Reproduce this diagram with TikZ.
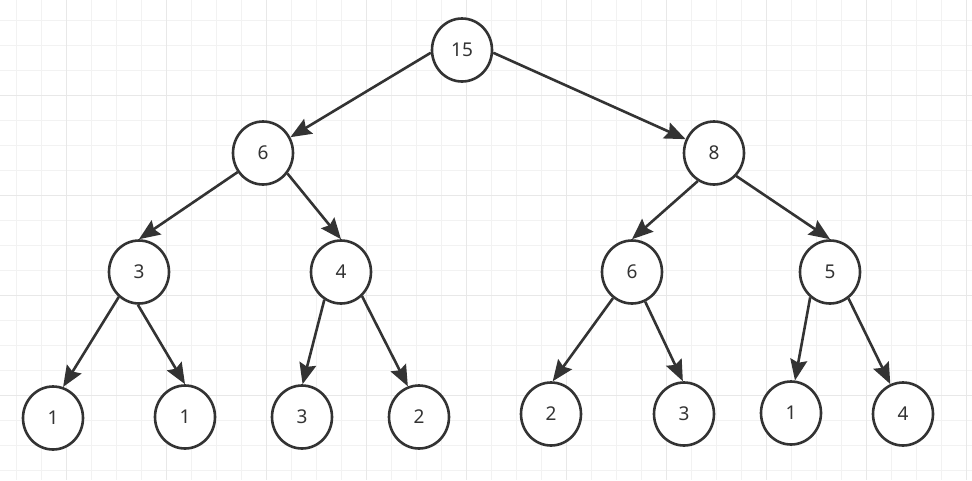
\documentclass[tikz,border=0pt]{standalone}
\usepackage{fontspec}
\setmainfont{Noto Sans}
\usetikzlibrary{arrows.meta,shapes.geometric}
\definecolor{tratto}{HTML}{333333}
\definecolor{griglia}{HTML}{F2F2F2}
\definecolor{grigliaforte}{HTML}{E8E8E8}
\begin{document}
\begin{tikzpicture}[x=1pt,y=-1pt,
	nodo/.style={ellipse, draw=tratto, fill=white, line width=2.6pt,
		minimum width=60pt, minimum height=63pt, inner sep=0pt,
		text=tratto, font=\fontsize{19}{19}\selectfont},
	ramo/.style={line width=2.6pt, draw=tratto,
		-{Stealth[length=21pt, width=17pt, inset=3pt]}},
	fine/.style={line width=0.8pt, griglia},
	forte/.style={line width=0.9pt, grigliaforte},
	]
	\useasboundingbox (0,0) rectangle (972,480);
	\fill[white] (0,0) rectangle (972,480);
	
	%% ── griglia ────────────────────────────────
	\foreach \gx in {0,...,38} \draw[fine] (16.7+25*\gx,0)--(16.7+25*\gx,480);
	\foreach \gy in {0,...,18} \draw[fine] (0,20+25*\gy)--(972,20+25*\gy);
	\foreach \gx in {0,...,9} \draw[forte] (66.7+100*\gx,0)--(66.7+100*\gx,480);
	\foreach \gy in {0,...,4} \draw[forte] (0,95+100*\gy)--(972,95+100*\gy);
	
	%% ── nodi ───────────────────────────────────
	\node[nodo] (radice) at (462,50) {15};
	\node[nodo] (sx) at (263,153) {6};
	\node[nodo] (dx) at (714,153) {8};
	\node[nodo] (sxsx) at (139,272) {3};
	\node[nodo] (sxdx) at (341,272) {4};
	\node[nodo] (dxsx) at (632,272) {6};
	\node[nodo] (dxdx) at (830,272) {5};
	\node[nodo] (f1) at (53,418) {1};
	\node[nodo] (f2) at (185,417) {1};
	\node[nodo] (f3) at (302,417) {3};
	\node[nodo] (f4) at (419,417) {2};
	\node[nodo] (f5) at (551,414) {2};
	\node[nodo] (f6) at (684,414) {3};
	\node[nodo] (f7) at (791,413) {1};
	\node[nodo] (f8) at (903,414) {4};
	
	%% ── rami ───────────────────────────────────
	\draw[ramo] (radice.185)--(sx.30);
	\draw[ramo] (radice.355)--(dx.154);
	\draw[ramo] (sx.217)--(sxsx.90);
	\draw[ramo] (sx.320)--(sxdx.90);
	\draw[ramo] (dx.240)--(dxsx.90);
	\draw[ramo] (dx.314)--(dxdx.90);
	\draw[ramo] (sxsx.231)--(f1.72);
	\draw[ramo] (sxsx.268)--(f2.90);
	\draw[ramo] (sxdx.239)--(f3.89);
	\draw[ramo] (sxdx.311)--(f4.110);
	\draw[ramo] (dxsx.234)--(f5.87);
	\draw[ramo] (dxsx.294)--(f6.92);
	\draw[ramo] (dxdx.232)--(f7.83);
	\draw[ramo] (dxdx.305)--(f8.113);
\end{tikzpicture}
\end{document}
